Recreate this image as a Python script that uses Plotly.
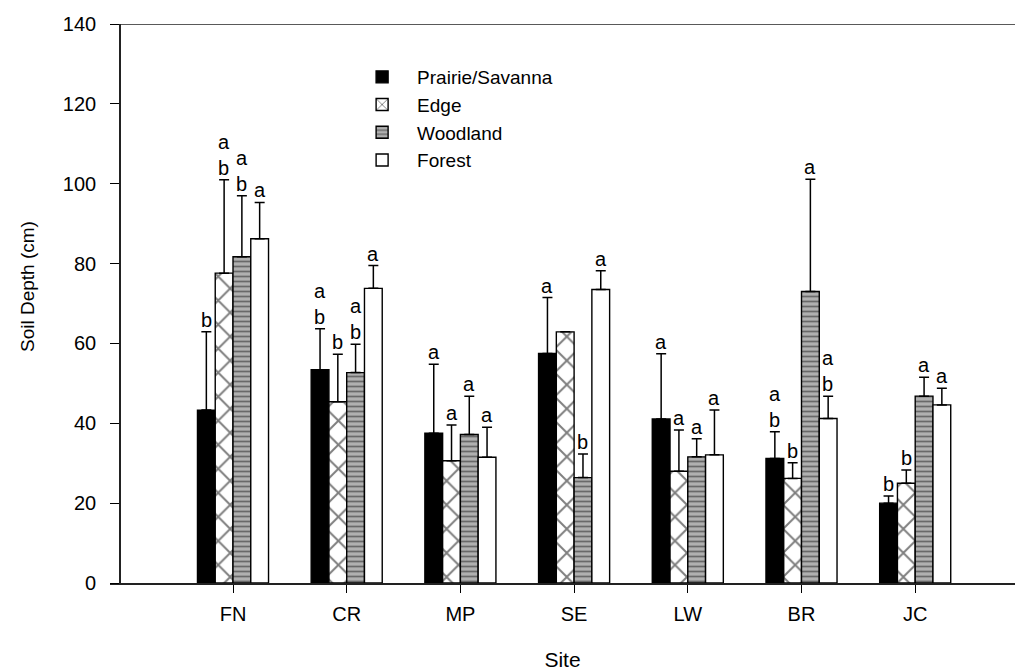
import plotly.graph_objects as go

sites = ["FN", "CR", "MP", "SE", "LW", "BR", "JC"]
series = ["Prairie/Savanna", "Edge", "Woodland", "Forest"]

prairie = [43.3, 53.4, 37.5, 57.5, 41.1, 31.2, 20.0]
edge = [77.6, 45.4, 30.6, 62.9, 28.0, 26.2, 25.0]
woodland = [81.7, 52.7, 37.2, 26.4, 31.6, 73.0, 46.8]
forest = [86.2, 73.8, 31.5, 73.5, 32.1, 41.2, 44.6]

prairie_err = [19.6, 10.3, 17.3, 14.0, 16.3, 6.7, 1.8]
edge_err = [23.4, 11.9, 9.0, 0.0, 10.3, 3.9, 3.3]
woodland_err = [15.3, 7.1, 9.6, 5.9, 4.5, 28.1, 4.7]
forest_err = [9.1, 5.7, 7.5, 4.7, 11.2, 5.6, 4.2]

prairie_letters = ["b", "a<br>b", "a", "a", "a", "a<br>b", "b"]
edge_letters = ["a<br>b", "b", "a", "", "a", "b", "b"]
woodland_letters = ["a<br>b", "a<br>b", "a", "b", "a", "a", "a"]
forest_letters = ["a", "a", "a", "a", "a", "a<br>b", "a"]

values = [prairie, edge, woodland, forest]
errors = [prairie_err, edge_err, woodland_err, forest_err]
letters = [prairie_letters, edge_letters, woodland_letters, forest_letters]

styles = [
    dict(color="black"),
    dict(color="white", pattern=dict(shape="x", size=17, solidity=0.22,
                                     fgcolor="black", bgcolor="white")),
    dict(color="#a8a8a8", pattern=dict(shape="-", size=5, solidity=0.35,
                                       fgcolor="#222222", bgcolor="#b0b0b0")),
    dict(color="white"),
]

FONT = "Liberation Sans, Arial, sans-serif"
fig = go.Figure()
for name, vals, errs, st in zip(series, values, errors, styles):
    fig.add_trace(go.Bar(
        name=name, x=sites, y=vals,
        marker=dict(line=dict(color="black", width=1.4), **st),
        error_y=dict(type="data", symmetric=False, array=errs,
                     arrayminus=[0] * len(errs), color="black",
                     thickness=1.5, width=5),
    ))

bargap = 0.375
nser = len(series)
bw = (1 - bargap) / nser
annotations = []
for si, (vals, errs, labs) in enumerate(zip(values, errors, letters)):
    off = -0.5 * (1 - bargap) + bw * (si + 0.5)
    for ci, (v, e, t) in enumerate(zip(vals, errs, labs)):
        if not t:
            continue
        annotations.append(dict(
            x=ci + off, y=v + e, xref="x", yref="y", text=t,
            showarrow=False, yanchor="bottom", xanchor="center",
            yshift=-1, font=dict(family=FONT, size=20, color="black"),
        ))

L, R_, T, B = 110, 0, 24, 88
plot_w = 1015 - L - R_
plot_h = 671 - T - B
unit = 113.7
x0 = -(233 - L) / unit
x1 = x0 + plot_w / unit
ypos = (120 - L) / plot_w

# y-axis title as annotation (placed slightly above plot centre, as in source)
annotations.append(dict(
    text="Soil Depth (cm)", textangle=-90, showarrow=False,
    xref="paper", yref="paper", x=(27 - L) / plot_w, y=(583 - 287) / plot_h,
    xanchor="center", yanchor="middle",
    font=dict(family=FONT, size=19, color="black"),
))

fig.update_layout(
    width=1015, height=671,
    margin=dict(l=L, r=R_, t=T, b=B, pad=0),
    paper_bgcolor="white", plot_bgcolor="white",
    barmode="group", bargap=bargap, bargroupgap=0,
    font=dict(family=FONT, size=20, color="black"),
    showlegend=True,
    legend=dict(x=0.262, y=(583 - 58) / plot_h, xanchor="left", yanchor="top",
                bgcolor="rgba(0,0,0,0)", font=dict(size=19),
                traceorder="normal", itemwidth=60),
    annotations=annotations,
    xaxis=dict(type="category", range=[x0, x1], showline=True,
               linecolor="#222", linewidth=1.6, ticks="outside",
               ticklen=8, tickwidth=1.3, tickcolor="black",
               showgrid=False, zeroline=False, ticklabelstandoff=4,
               title=dict(text="Site", font=dict(size=21), standoff=31),
               tickfont=dict(size=20)),
    yaxis=dict(range=[0, 140], tickvals=[0, 20, 40, 60, 80, 100, 120, 140],
               anchor="free", position=ypos, showline=True,
               linecolor="#222", linewidth=1.6, ticks="outside", ticklen=9,
               tickwidth=1.3, tickcolor="black", showgrid=False,
               zeroline=False, ticklabelstandoff=10,
               tickfont=dict(size=20)),
    shapes=[dict(type="line", xref="paper", yref="y", x0=ypos, x1=1,
                 y0=140, y1=140, line=dict(color="#222", width=1.6))],
)

fig.write_html("out.html")
